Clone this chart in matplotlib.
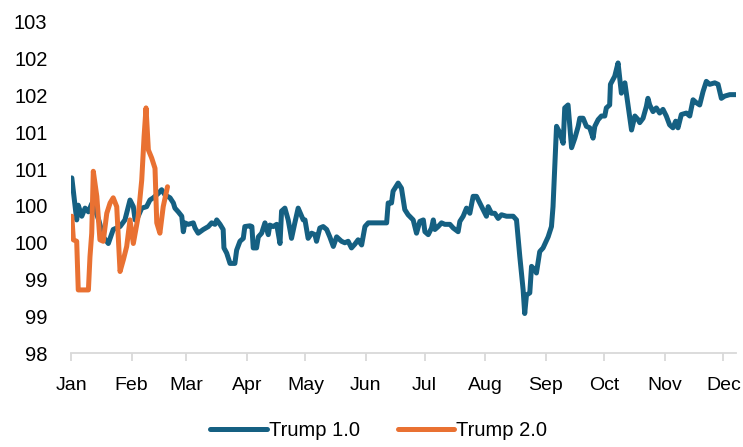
import matplotlib.pyplot as plt

# days since Jan 1 and index level, first-term year
t1_day = [0.4, 2.9, 3.7, 5.5, 7.2, 8.9, 10.6, 12.3, 14.3, 16.5, 19.1, 21.6, 25.1, 27.6,
          30.2, 31.9, 32.8, 34.4, 36.2, 38.7, 40.4, 42.1, 44.7, 46.4, 48.1, 50.7, 52.4,
          53.2, 54.9, 56.7, 57.5, 58.3, 60.0, 62.6, 63.5, 65.1, 67.7, 70.3, 72.0, 73.7,
          74.6, 76.3, 77.9, 78.3, 79.7, 81.4, 83.9, 84.8, 86.5, 88.2, 89.0, 91.6, 92.6,
          93.3, 95.0, 95.9, 97.6, 99.3, 101.0, 101.8, 103.5, 105.3, 107.0, 107.8, 109.5,
          111.2, 112.9, 114.6, 116.3, 118.9, 119.8, 121.4, 123.2, 124.9, 125.7, 127.4,
          129.1, 130.9, 132.5, 134.3, 136.0, 138.5, 140.2, 141.9, 143.6, 145.3, 147.0,
          148.8, 150.5, 152.2, 161.6, 162.4, 164.1, 164.9, 167.5, 169.2, 170.9, 172.6,
          175.2, 176.9, 178.6, 180.4, 181.2, 182.9, 184.6, 185.5, 186.3, 188.0, 189.7,
          191.4, 194.0, 195.7, 198.2, 199.1, 200.8, 202.5, 204.2, 205.9, 207.6, 209.3,
          211.0, 212.7, 213.6, 215.3, 217.0, 218.7, 220.4, 223.0, 226.4, 228.1, 229.8,
          231.5, 232.3, 233.2, 234.9, 235.8, 237.5, 238.3, 240.0, 241.7, 244.3, 246.0,
          246.8, 248.6, 250.3, 252.0, 252.8, 254.5, 256.3, 258.0, 259.7, 260.5, 262.2,
          263.9, 265.6, 267.3, 268.2, 269.9, 271.6, 273.3, 274.1, 275.8, 276.2, 278.4,
          280.1, 281.8, 283.6, 285.3, 287.0, 288.7, 290.4, 291.2, 292.9, 294.6, 295.4,
          296.3, 298.0, 299.7, 301.4, 303.1, 304.8, 306.5, 308.2, 309.6, 310.8, 312.5,
          315.1, 316.8, 318.5, 320.2, 321.9, 323.6, 325.3, 327.0, 329.6, 331.3, 333.0,
          334.7, 337.3, 340.7]
t1_val = [100.38, 99.81, 100.01, 99.86, 99.97, 99.92, 100.03, 99.95, 99.80, 99.58, 99.49,
          99.68, 99.72, 99.81, 100.08, 99.99, 99.81, 99.86, 99.97, 99.99, 100.08, 100.11,
          100.17, 100.22, 100.15, 100.11, 100.04, 99.97, 99.92, 99.86, 99.65, 99.77, 99.75,
          99.77, 99.70, 99.63, 99.68, 99.72, 99.77, 99.75, 99.81, 99.75, 99.68, 99.43,
          99.36, 99.22, 99.22, 99.40, 99.52, 99.56, 99.72, 99.73, 99.72, 99.43, 99.43,
          99.58, 99.63, 99.77, 99.61, 99.74, 99.72, 99.75, 99.49, 99.93, 99.97, 99.81,
          99.56, 99.77, 99.97, 99.81, 99.81, 99.56, 99.63, 99.61, 99.52, 99.70, 99.72,
          99.68, 99.58, 99.45, 99.58, 99.52, 99.50, 99.52, 99.43, 99.48, 99.54, 99.47,
          99.72, 99.77, 99.77, 100.04, 100.04, 100.20, 100.31, 100.24, 99.95, 99.88,
          99.81, 99.63, 99.79, 99.81, 99.65, 99.61, 99.70, 99.81, 99.68, 99.72, 99.77,
          99.75, 99.75, 99.70, 99.65, 99.79, 99.86, 99.97, 99.90, 100.13, 100.13, 100.04,
          99.95, 99.86, 99.99, 99.90, 99.90, 99.83, 99.88, 99.86, 99.86, 99.81, 99.31,
          98.86, 98.54, 98.79, 98.82, 99.18, 99.13, 99.09, 99.38, 99.43, 99.58, 99.72,
          99.99, 101.08, 100.99, 100.85, 101.33, 101.37, 100.79, 100.92, 101.08, 101.19,
          101.19, 101.08, 101.06, 100.92, 101.08, 101.17, 101.22, 101.22, 101.33, 101.37,
          101.65, 101.76, 101.94, 101.53, 101.67, 101.35, 101.03, 101.22, 101.17, 101.13,
          101.19, 101.35, 101.46, 101.37, 101.28, 101.33, 101.26, 101.31, 101.22, 101.10,
          101.06, 101.15, 101.06, 101.24, 101.26, 101.22, 101.44, 101.40, 101.37, 101.55,
          101.69, 101.65, 101.67, 101.65, 101.46, 101.49, 101.51, 101.51]

# second-term year so far
t2_day = [0.4, 1.2, 2.9, 3.7, 8.9, 9.7, 10.6, 11.4, 13.2, 14.8, 16.5, 18.3, 20.0, 21.6,
          23.4, 25.1, 26.8, 28.5, 30.2, 31.9, 34.4, 36.2, 37.4, 38.4, 39.6, 41.3, 43.0,
          43.9, 45.5, 47.2, 49.4]
t2_val = [99.86, 99.54, 99.52, 98.86, 98.86, 99.31, 99.63, 100.47, 100.13, 99.54, 99.52,
          99.90, 100.04, 100.11, 99.99, 99.11, 99.27, 99.45, 99.81, 99.49, 99.86, 100.35,
          100.94, 101.33, 100.76, 100.65, 100.51, 99.77, 99.63, 99.99, 100.26]

month_start = [0, 31, 59, 90, 120, 151, 181, 212, 243, 273, 304, 334]
month_names = ['Jan', 'Feb', 'Mar', 'Apr', 'May', 'Jun', 'Jul', 'Aug', 'Sep', 'Oct', 'Nov', 'Dec']
y_ticks = [98, 98.5, 99, 99.5, 100, 100.5, 101, 101.5, 102, 102.5]

plt.rcParams['font.family'] = ['Liberation Sans', 'DejaVu Sans']

fig = plt.figure(figsize=(7.43, 4.47), dpi=100)
ax = fig.add_axes([0.0956, 0.2096, 0.895, 0.7419])

ax.plot(t1_day, t1_val, color='#156082', lw=3.6, solid_joinstyle='round',
        solid_capstyle='round', label='Trump 1.0', zorder=2)
ax.plot(t2_day, t2_val, color='#E97132', lw=3.6, solid_joinstyle='round',
        solid_capstyle='round', label='Trump 2.0', zorder=3)

ax.set_xlim(0, 340.5)
ax.set_ylim(98, 102.5)
ax.set_xticks(month_start)
ax.set_xticklabels(month_names)
ax.set_yticks(y_ticks)
# labels rounded to whole numbers
ax.set_yticklabels(['%d' % int(v + 0.5) for v in y_ticks])

for s in ['top', 'right', 'left']:
    ax.spines[s].set_visible(False)
ax.spines['bottom'].set_color('#d9d9d9')
ax.spines['bottom'].set_linewidth(1.3)
ax.tick_params(axis='x', colors='#d9d9d9', length=6, width=1.3, labelcolor='black',
               labelsize=14, pad=11)
ax.tick_params(axis='y', length=0, labelsize=14.5, pad=17)

fig.legend(loc='lower center', bbox_to_anchor=(0.51, -0.026), ncol=2, frameon=False,
           fontsize=14.5, handlelength=2.8, handletextpad=0.1, columnspacing=1.9)

fig.savefig('out.png', dpi=100)
